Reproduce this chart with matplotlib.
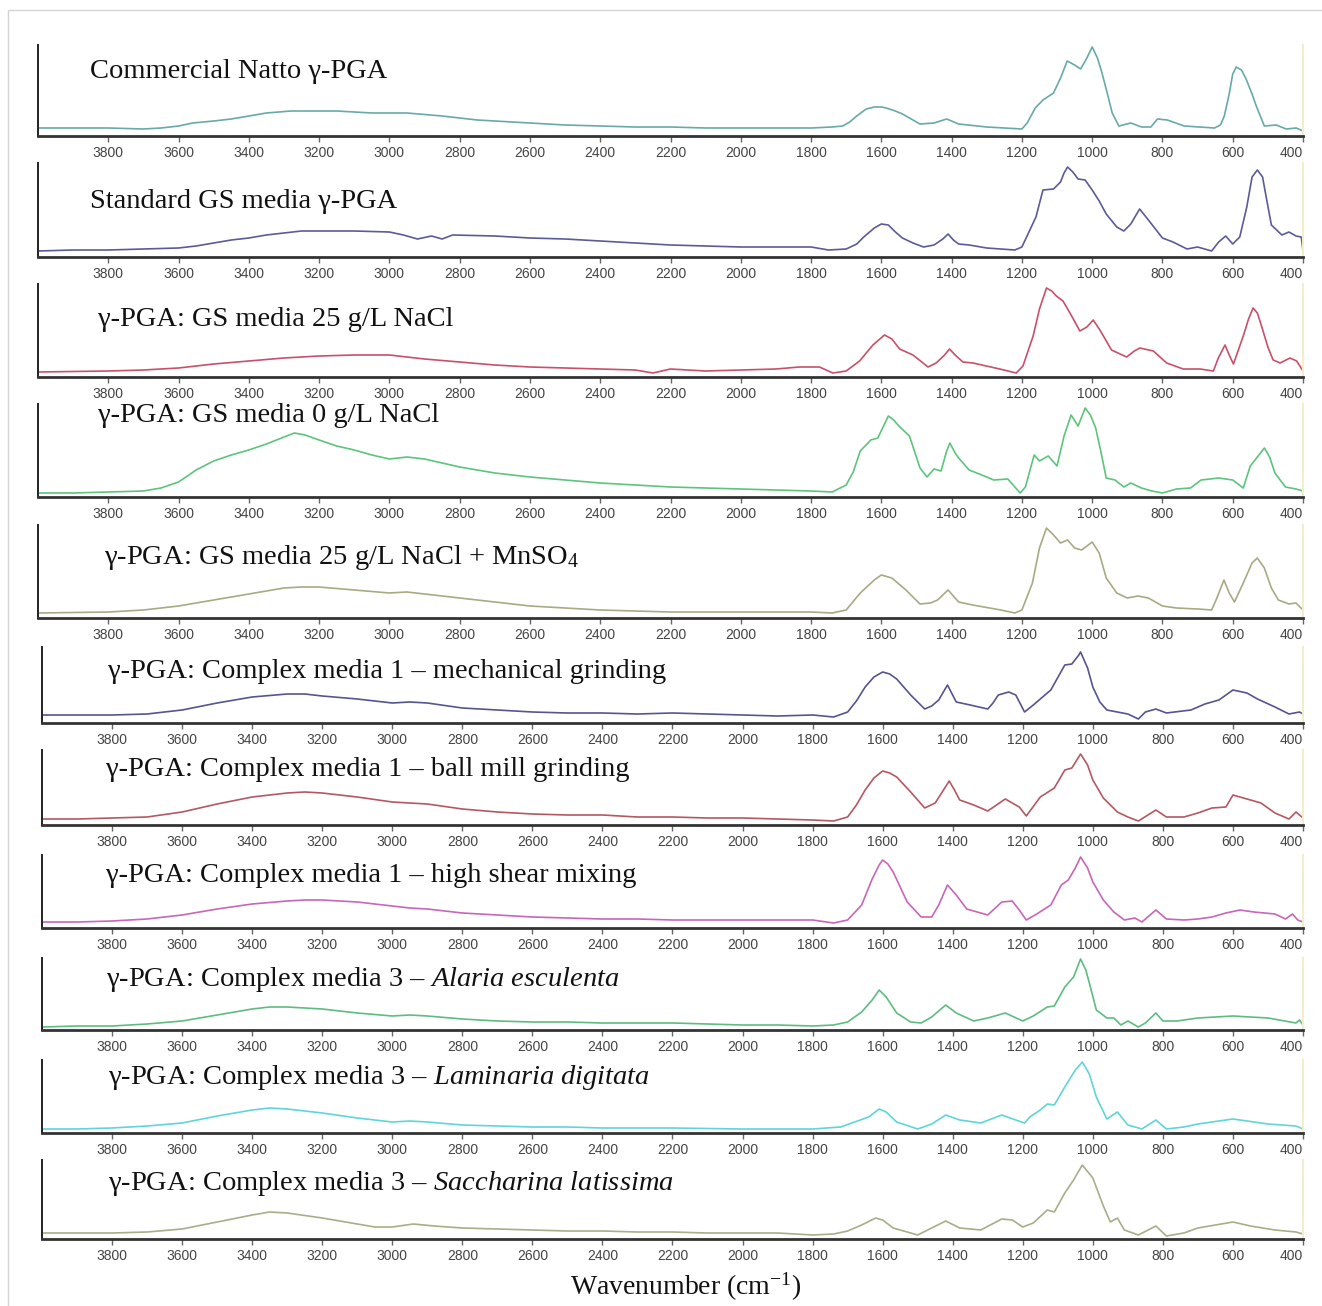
import numpy as np
import matplotlib
matplotlib.use("Agg")
import matplotlib.pyplot as plt
from matplotlib.patches import Rectangle

plt.rcParams['font.family'] = ['Liberation Sans', 'DejaVu Sans']
plt.rcParams['mathtext.fontset'] = 'custom'
plt.rcParams['mathtext.rm'] = 'Liberation Serif'
plt.rcParams['mathtext.it'] = 'Liberation Serif:italic'

W, H = 1322, 1306

# ---- spectra (wavenumber cm-1, intensity a.u.) ----
natto_wn = [4000, 3900, 3800, 3700, 3650, 3600, 3560, 3500, 3450, 3400, 3350, 3280, 3200, 3150, 3050, 2950,
            2850, 2750, 2600, 2500, 2400, 2300, 2200, 2100, 2000, 1900, 1800, 1740, 1710, 1690, 1670, 1643,
            1620, 1600, 1586, 1560, 1540, 1510, 1490, 1450, 1414, 1380, 1300, 1200, 1185, 1162, 1140, 1110,
            1090, 1071, 1050, 1033, 1015, 1000, 985, 972, 955, 943, 924, 890, 860, 833, 814, 786, 738, 652,
            635, 624, 610, 600, 590, 575, 562, 545, 533, 510, 476, 448, 419, 400]
natto_ab = [8, 8, 8, 7, 8, 10, 13, 15, 17, 20, 23, 25, 25, 25, 23, 23,
            20, 16, 13, 11, 10, 9, 9, 8, 8, 8, 8, 9, 10, 14, 20, 27,
            29, 29, 28, 25, 22, 16, 12, 13, 17, 12, 9, 7, 13, 28, 36, 43,
            58, 75, 71, 67, 78, 89, 78, 63, 40, 23, 10, 13, 9, 9, 17, 16, 10, 8,
            11, 20, 42, 62, 69, 66, 57, 42, 30, 10, 11, 7, 8, 5]

gs_wn = [4000, 3900, 3800, 3700, 3600, 3550, 3500, 3450, 3400, 3350, 3300, 3250, 3200, 3100, 3000, 2960,
         2920, 2880, 2850, 2820, 2700, 2600, 2500, 2400, 2300, 2200, 2100, 2000, 1900, 1800, 1750, 1700,
         1670, 1650, 1620, 1600, 1580, 1560, 1540, 1510, 1480, 1450, 1425, 1410, 1395, 1380, 1350, 1300,
         1220, 1200, 1180, 1160, 1140, 1110, 1090, 1080, 1070, 1055, 1040, 1020, 1000, 980, 960, 930, 910,
         890, 865, 840, 800, 770, 730, 700, 660, 640, 620, 600, 580, 560, 545, 530, 515, 510, 490, 460,
         440, 420, 405, 400]
gs_ab = [6, 7, 7, 8, 9, 11, 14, 17, 19, 22, 24, 26, 26, 26, 25, 22,
         18, 21, 18, 22, 21, 19, 18, 16, 14, 12, 11, 10, 10, 10, 7, 8,
         13, 20, 29, 33, 32, 25, 19, 14, 10, 12, 18, 23, 17, 13, 12, 9,
         7, 10, 25, 40, 67, 68, 75, 84, 90, 85, 78, 77, 67, 56, 43, 30, 26,
         33, 48, 37, 19, 15, 8, 10, 6, 15, 21, 13, 20, 50, 80, 87, 80, 70, 32, 22,
         25, 21, 20, 6]

nacl25_wn = [4000, 3800, 3700, 3600, 3500, 3400, 3300, 3200, 3100, 3000, 2950, 2900, 2800, 2700, 2600,
             2500, 2400, 2300, 2250, 2200, 2100, 2000, 1900, 1833, 1776, 1738, 1700, 1662, 1624, 1591,
             1570, 1548, 1510, 1467, 1444, 1420, 1406, 1390, 1368, 1339, 1263, 1216, 1197, 1168, 1150,
             1130, 1115, 1102, 1083, 1060, 1035, 1015, 997, 978, 945, 902, 880, 864, 826, 788, 741, 693,
             655, 641, 622, 610, 598, 570, 555, 542, 530, 518, 500, 485, 465, 437, 418, 400]
nacl25_ab = [5, 6, 7, 9, 13, 16, 19, 21, 22, 22, 20, 18, 15, 12, 10,
             9, 8, 7, 4, 8, 6, 7, 8, 10, 10, 4, 6, 16, 32, 42,
             38, 28, 22, 10, 14, 22, 28, 22, 15, 14, 8, 4, 11, 41, 68,
             89, 86, 81, 76, 62, 46, 50, 57, 47, 27, 20, 26, 29, 26, 14, 8, 8,
             6, 19, 32, 22, 13, 41, 58, 69, 64, 51, 30, 17, 14, 19, 16, 6]

nacl0_wn = [4000, 3900, 3800, 3700, 3650, 3600, 3550, 3500, 3450, 3400, 3350, 3300, 3270, 3240, 3200, 3150,
            3100, 3050, 3000, 2950, 2900, 2850, 2800, 2700, 2600, 2500, 2400, 2200, 2000, 1800, 1740, 1700,
            1680, 1660, 1630, 1610, 1595, 1580, 1565, 1550, 1520, 1490, 1470, 1450, 1430, 1415, 1405, 1390,
            1380, 1350, 1300, 1280, 1240, 1205, 1190, 1165, 1150, 1125, 1100, 1080, 1060, 1040, 1020, 1005,
            990, 975, 960, 935, 910, 890, 860, 830, 800, 760, 720, 690, 640, 600, 570, 550, 530, 510, 495,
            480, 450, 420, 400]
nacl0_ab = [4, 4, 5, 6, 9, 15, 27, 36, 42, 47, 53, 60, 64, 62, 57, 51,
            47, 42, 38, 40, 38, 34, 30, 24, 20, 17, 14, 10, 8, 6, 5, 12,
            25, 46, 57, 59, 70, 81, 77, 71, 61, 29, 20, 28, 26, 45, 54, 44,
            39, 27, 20, 17, 18, 4, 10, 42, 36, 41, 31, 61, 82, 71, 89, 82,
            69, 45, 19, 17, 10, 14, 9, 6, 4, 8, 9, 17, 19, 17, 9, 31, 40, 49, 40,
            24, 10, 8, 6]

mn_wn = [4000, 3800, 3700, 3600, 3500, 3400, 3300, 3250, 3200, 3100, 3000, 2950, 2900, 2800, 2700, 2600,
         2500, 2400, 2300, 2200, 2000, 1800, 1740, 1700, 1660, 1620, 1600, 1570, 1530, 1490, 1460, 1440,
         1410, 1380, 1340, 1260, 1220, 1200, 1170, 1150, 1130, 1110, 1090, 1070, 1050, 1030, 1000, 980,
         960, 930, 900, 870, 840, 800, 760, 700, 660, 645, 625, 610, 595, 570, 545, 530, 510, 490, 470,
         440, 420, 400]
mn_ab = [5, 6, 8, 12, 18, 24, 30, 31, 31, 28, 25, 26, 24, 20, 16, 12,
         10, 8, 7, 6, 6, 6, 5, 8, 25, 38, 43, 40, 28, 14, 15, 18,
         28, 16, 13, 8, 5, 8, 35, 70, 90, 83, 75, 78, 70, 68, 76, 65,
         40, 25, 20, 22, 20, 12, 10, 9, 8, 20, 38, 25, 16, 35, 55, 60, 50, 30, 18,
         14, 15, 8]

mech_wn = [4000, 3900, 3800, 3700, 3600, 3500, 3400, 3300, 3250, 3200, 3100, 3000, 2950, 2900, 2800, 2700,
           2600, 2500, 2400, 2300, 2200, 2100, 2000, 1900, 1800, 1740, 1700, 1675, 1650, 1625, 1600, 1580,
           1560, 1520, 1480, 1460, 1440, 1415, 1390, 1350, 1300, 1285, 1270, 1240, 1220, 1195, 1170, 1120,
           1080, 1060, 1040, 1035, 1015, 1000, 980, 960, 900, 870, 850, 820, 790, 720, 680, 640, 600, 560,
           530, 480, 440, 410, 400]
mech_ab = [8, 8, 8, 9, 13, 20, 26, 29, 29, 27, 24, 20, 21, 20, 15, 13,
           11, 10, 10, 9, 10, 9, 8, 7, 8, 6, 11, 22, 36, 46, 51, 49,
           44, 28, 14, 17, 23, 38, 21, 18, 14, 20, 28, 31, 28, 11, 18, 33,
           58, 59, 68, 71, 55, 36, 21, 13, 9, 4, 11, 14, 10, 13, 19, 23, 33, 30,
           24, 16, 9, 11, 9]

ball_wn = [4000, 3900, 3800, 3700, 3600, 3500, 3400, 3300, 3250, 3200, 3100, 3000, 2950, 2900, 2800, 2700,
           2600, 2500, 2400, 2300, 2200, 2100, 2000, 1900, 1800, 1740, 1700, 1675, 1650, 1625, 1600, 1580,
           1560, 1520, 1480, 1450, 1430, 1410, 1395, 1380, 1340, 1300, 1250, 1210, 1190, 1150, 1110, 1080,
           1060, 1035, 1015, 1000, 970, 930, 900, 870, 820, 790, 740, 700, 660, 620, 600, 560, 520, 480,
           440, 420, 400]
ball_ab = [6, 6, 7, 8, 13, 21, 28, 32, 33, 32, 28, 23, 22, 21, 16, 13,
           11, 10, 10, 8, 8, 7, 7, 6, 5, 4, 8, 20, 35, 47, 54, 52,
           48, 33, 17, 22, 33, 44, 35, 25, 20, 14, 26, 18, 9, 28, 37, 55,
           57, 71, 60, 45, 27, 13, 8, 4, 15, 8, 8, 12, 17, 18, 30, 26, 22, 12,
           6, 13, 7]

shear_wn = [4000, 3900, 3800, 3700, 3600, 3500, 3400, 3300, 3250, 3200, 3100, 3000, 2950, 2900, 2800, 2700,
            2600, 2500, 2400, 2300, 2200, 2100, 2000, 1900, 1800, 1740, 1700, 1660, 1630, 1610, 1600, 1585,
            1570, 1530, 1490, 1460, 1440, 1415, 1390, 1360, 1300, 1260, 1230, 1210, 1190, 1160, 1120, 1090,
            1070, 1050, 1035, 1015, 1000, 970, 940, 910, 880, 860, 820, 790, 740, 700, 660, 620, 580, 540,
            480, 450, 430, 415, 400]
shear_ab = [6, 6, 7, 9, 13, 19, 24, 27, 28, 28, 26, 22, 20, 19, 15, 13,
            11, 10, 9, 9, 8, 8, 8, 8, 8, 5, 8, 23, 49, 63, 68, 64,
            56, 26, 11, 11, 23, 43, 33, 19, 13, 26, 27, 18, 8, 14, 23, 43,
            48, 60, 71, 60, 46, 28, 16, 8, 10, 6, 18, 9, 8, 9, 11, 15, 18, 16,
            14, 9, 14, 8, 6]

alaria_wn = [4000, 3900, 3800, 3700, 3600, 3500, 3400, 3350, 3300, 3200, 3100, 3000, 2950, 2900, 2800, 2700,
             2600, 2500, 2400, 2300, 2200, 2100, 2000, 1900, 1800, 1740, 1700, 1660, 1630, 1610, 1590, 1560,
             1520, 1490, 1460, 1420, 1390, 1340, 1300, 1250, 1200, 1170, 1130, 1110, 1080, 1055, 1035, 1020,
             1010, 990, 960, 940, 920, 900, 870, 850, 820, 800, 760, 700, 600, 500, 420, 410, 400]
alaria_ab = [3, 4, 4, 6, 9, 15, 21, 23, 23, 21, 17, 14, 15, 14, 11, 9,
             8, 8, 7, 7, 7, 6, 5, 5, 4, 5, 8, 18, 30, 40, 33, 17,
             8, 7, 13, 25, 17, 9, 12, 17, 9, 14, 23, 24, 43, 53, 71, 60,
             47, 20, 12, 12, 5, 9, 3, 7, 17, 9, 9, 12, 14, 12, 7, 10, 5]

lamin_wn = [4000, 3900, 3800, 3700, 3600, 3500, 3400, 3350, 3300, 3200, 3100, 3000, 2950, 2900, 2800, 2700,
            2600, 2500, 2400, 2200, 2000, 1800, 1720, 1680, 1640, 1610, 1590, 1560, 1500, 1460, 1420, 1380,
            1320, 1260, 1220, 1195, 1180, 1150, 1130, 1110, 1080, 1050, 1030, 1010, 990, 960, 930, 900, 860,
            820, 790, 740, 700, 600, 500, 420, 400]
lamin_ab = [4, 4, 5, 7, 10, 17, 23, 25, 24, 20, 15, 11, 12, 11, 8, 7,
            6, 6, 5, 5, 4, 4, 6, 11, 16, 24, 21, 11, 4, 9, 18, 13,
            10, 18, 13, 10, 16, 23, 29, 28, 46, 63, 71, 59, 36, 14, 21, 8, 4,
            13, 4, 6, 9, 14, 9, 7, 4]

sacch_wn = [4000, 3900, 3800, 3700, 3600, 3500, 3400, 3350, 3300, 3200, 3100, 3050, 3000, 2940, 2880, 2800,
            2700, 2600, 2500, 2400, 2300, 2200, 2100, 2000, 1900, 1800, 1740, 1700, 1660, 1620, 1600, 1570,
            1530, 1500, 1460, 1420, 1380, 1320, 1260, 1230, 1200, 1170, 1130, 1110, 1080, 1055, 1030, 1000,
            970, 950, 930, 910, 870, 820, 790, 740, 700, 600, 550, 480, 420, 400]
sacch_ab = [6, 6, 6, 7, 10, 17, 24, 27, 26, 21, 15, 12, 12, 15, 13, 11,
            10, 9, 8, 8, 7, 7, 6, 6, 6, 4, 5, 8, 14, 21, 19, 11,
            7, 4, 11, 18, 11, 9, 20, 19, 12, 16, 29, 27, 46, 59, 74, 61,
            33, 17, 21, 9, 4, 13, 3, 6, 11, 17, 13, 9, 7, 5]

titles = [
    "Commercial Natto γ-PGA",
    "Standard GS media γ-PGA",
    "γ-PGA: GS media 25 g/L NaCl",
    "γ-PGA: GS media 0 g/L NaCl",
    "γ-PGA: GS media 25 g/L NaCl + MnSO$_4$",
    "γ-PGA: Complex media 1 – mechanical grinding",
    "γ-PGA: Complex media 1 – ball mill grinding",
    "γ-PGA: Complex media 1 – high shear mixing",
    "γ-PGA: Complex media 3 – $\\mathit{Alaria\\ esculenta}$",
    "γ-PGA: Complex media 3 – $\\mathit{Laminaria\\ digitata}$",
    "γ-PGA: Complex media 3 – $\\mathit{Saccharina\\ latissima}$",
]
series = [(natto_wn, natto_ab), (gs_wn, gs_ab), (nacl25_wn, nacl25_ab), (nacl0_wn, nacl0_ab),
          (mn_wn, mn_ab), (mech_wn, mech_ab), (ball_wn, ball_ab), (shear_wn, shear_ab),
          (alaria_wn, alaria_ab), (lamin_wn, lamin_ab), (sacch_wn, sacch_ab)]
colors = ['#68a9a9', '#5b5b98', '#c8506a', '#5cc47d', '#a8aa84', '#55558f',
          '#b45862', '#c866b8', '#5dbd80', '#5ed6d8', '#a9ad88']
tick_vals = list(range(3800, 399, -200))

# panel geometry in pixels: left, top, bottom, title x, title y
layout = [(38, 45, 136, 90, 72), (38, 163, 257, 90, 201), (38, 284, 377, 98, 320),
          (38, 404, 497, 98, 416), (38, 525, 618, 104, 557), (42, 647, 723, 108, 672),
          (42, 750, 825, 106, 770), (42, 855, 928, 106, 876), (42, 958, 1030, 106, 980),
          (42, 1060, 1133, 108, 1077), (42, 1160, 1239, 108, 1184)]
right = 1303

fig = plt.figure(figsize=(W / 100, H / 100), dpi=100)
fig.patch.set_facecolor('white')

for (wn, ab), title, col, (left, top, bottom, tx, ty) in zip(series, titles, colors, layout):
    ax = fig.add_axes([left / W, 1 - bottom / H, (right - left) / W, (bottom - top) / H])
    ax.patch.set_alpha(0)
    ax.plot(wn, ab, color=col, linewidth=1.2)
    ax.set_xlim(4000, 400)
    ax.set_ylim(0, bottom - top)
    ax.set_yticks([])
    ax.spines['top'].set_visible(False)
    ax.spines['right'].set_color('#f2edcc')
    ax.spines['right'].set_linewidth(1.5)
    ax.spines['left'].set_color('#222222')
    ax.spines['left'].set_linewidth(1.4)
    ax.spines['bottom'].set_color('#333333')
    ax.spines['bottom'].set_linewidth(2)
    ax.set_xticks(tick_vals, [str(t) for t in tick_vals])
    ax.tick_params(axis='x', direction='out', length=4, width=1, color='#666666',
                   labelsize=10, labelcolor='#444444', pad=3)
    ax.get_xticklabels()[-1].set_horizontalalignment('right')
    fig.text(tx / W, 1 - ty / H, title, fontsize=20.5, va='center', ha='left',
             family=['Liberation Serif', 'DejaVu Serif'], color='#111111')

fig.text(686 / W, 1 - 1287 / H, "Wavenumber (cm$^{-1}$)", fontsize=20, ha='center', va='center',
         family=['Liberation Serif', 'DejaVu Serif'], color='#111111')

fig.add_artist(Rectangle((8 / W, -0.1), 1.2, 1.1 - 10 / H, transform=fig.transFigure,
                         fill=False, edgecolor='#d4d4d4', linewidth=1))

fig.savefig("out.png", dpi=100, facecolor='white')
